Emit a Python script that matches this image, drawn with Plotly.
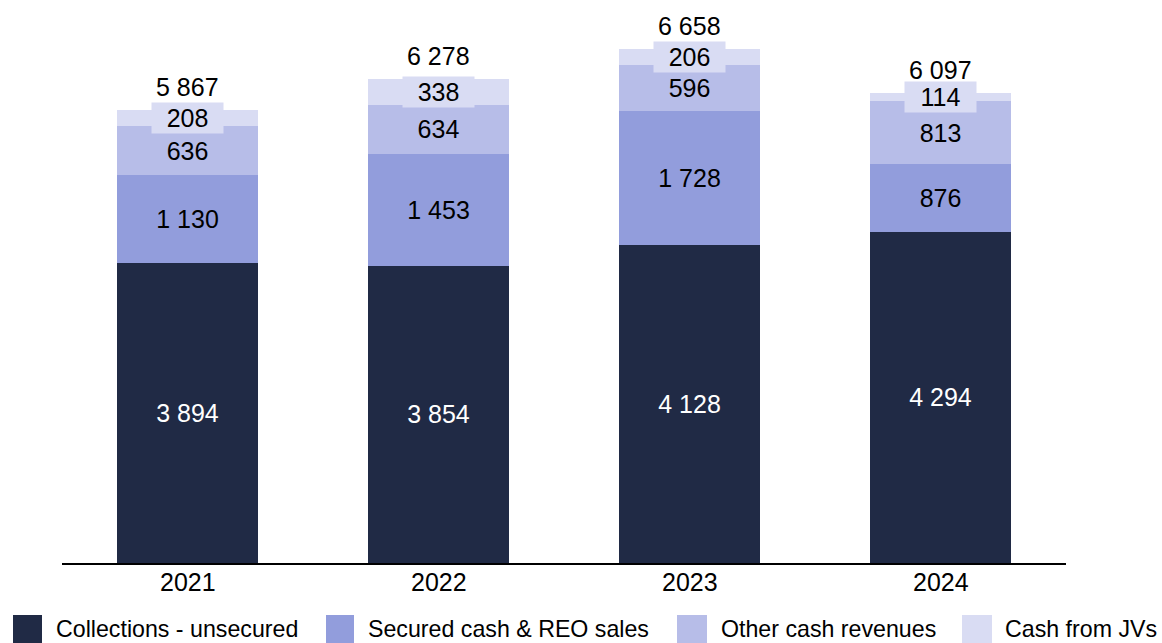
import plotly.graph_objects as go

years = ["2021", "2022", "2023", "2024"]
collections_unsecured = [3894, 3854, 4128, 4294]
secured_cash_reo = [1130, 1453, 1728, 876]
other_cash_revenues = [636, 634, 596, 813]
cash_from_jvs = [208, 338, 206, 114]
totals = [5867, 6278, 6658, 6097]

series_names = ["Collections - unsecured", "Secured cash & REO sales",
                "Other cash revenues", "Cash from JVs"]
colors = ["#202a45", "#929ddc", "#b7bde8", "#d9dcf3"]
label_colors = ["white", "black", "black", "black"]

FONT = "Liberation Sans, Arial, sans-serif"


def fmt(v):
    return f"{v:,}".replace(",", " ")


series = [collections_unsecured, secured_cash_reo, other_cash_revenues, cash_from_jvs]

fig = go.Figure()
for i, (name, vals) in enumerate(zip(series_names, series)):
    show_text = i < 3
    fig.add_trace(go.Bar(
        x=years,
        y=vals,
        name=name,
        marker=dict(color=colors[i], line=dict(width=0)),
        text=[fmt(v) for v in vals] if show_text else None,
        textposition="inside" if show_text else "none",
        insidetextanchor="middle",
        textangle=0,
        constraintext="none",
        textfont=dict(family=FONT, size=25, color=label_colors[i]),
        showlegend=False,
        hovertemplate="%{x}: %{y}<extra>" + name + "</extra>",
    ))

# JV labels with a box, totals above, year labels below
for j, yr in enumerate(years):
    base = collections_unsecured[j] + secured_cash_reo[j] + other_cash_revenues[j]
    fig.add_annotation(
        x=j, y=base + cash_from_jvs[j] / 2, text=fmt(cash_from_jvs[j]),
        showarrow=False, bgcolor=colors[3], width=71, height=30, borderpad=0,
        font=dict(family=FONT, size=25, color="black"),
    )
    fig.add_annotation(
        x=j, y=totals[j], text=fmt(totals[j]), showarrow=False,
        yanchor="middle", yshift=23,
        font=dict(family=FONT, size=25, color="black"),
    )
    fig.add_annotation(
        x=j, xref="x", y=0, yref="paper", text=yr, showarrow=False,
        yanchor="middle", yshift=-19,
        font=dict(family=FONT, size=25, color="black"),
    )

# Custom legend with large square swatches
W, L, B, PH = 1004, 62, 563, 540
legend_sq = [(13, 42), (326, 354), (677, 707), (962, 992)]
legend_txt = [54, 366, 719, 1003]
for i, name in enumerate(series_names):
    x0, x1 = legend_sq[i]
    fig.add_shape(
        type="rect", xref="paper", yref="paper",
        x0=(x0 - L) / W, x1=(x1 - L) / W,
        y0=(B - 644) / PH, y1=(B - 615) / PH,
        fillcolor=colors[i], line=dict(width=0),
    )
    fig.add_annotation(
        xref="paper", yref="paper", x=(legend_txt[i] - L) / W, y=(B - 629) / PH,
        xanchor="left", yanchor="middle", text=name, showarrow=False,
        font=dict(family=FONT, size=23.2, color="black"),
    )

fig.update_layout(
    barmode="stack",
    bargap=0.438,
    width=1162,
    height=643,
    margin=dict(l=62, r=96, t=23, b=80),
    plot_bgcolor="white",
    paper_bgcolor="white",
    font=dict(family=FONT, size=25, color="black"),
    xaxis=dict(
        showline=True, linecolor="black", linewidth=1.6,
        ticks="", showticklabels=False,
        showgrid=False, range=[-0.5, 3.5],
    ),
    yaxis=dict(visible=False, range=[0, 7000], showgrid=False),
)

fig.write_html("out.html", config={"displayModeBar": False},
               post_script="document.body.style.margin='0';")
